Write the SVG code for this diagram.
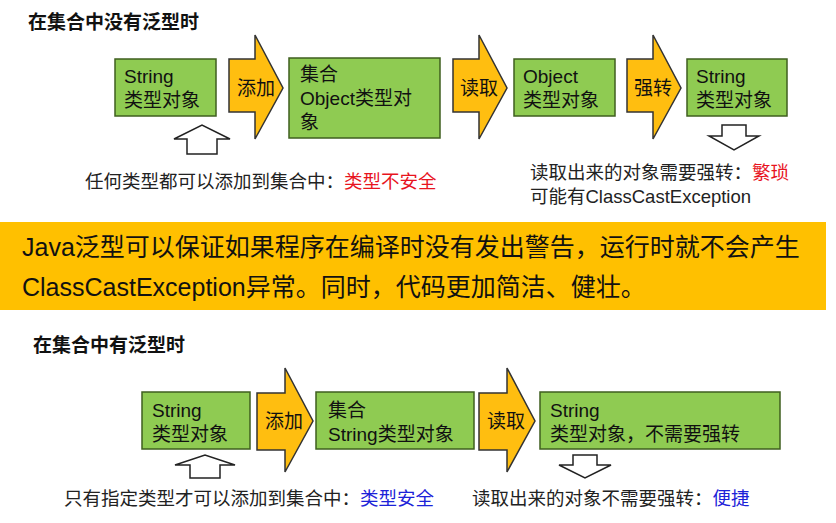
<svg xmlns="http://www.w3.org/2000/svg" width="836" height="523" viewBox="0 0 836 523">
<style>
text{font-family:"Liberation Sans","Noto Sans CJK SC",sans-serif;font-size:19px;fill:#111}
.box{fill:#8FCB52;stroke:#3F5F1F;stroke-width:1.5}
.arr{fill:#FFBE10;stroke:#333;stroke-width:1.5}
.hol{fill:#fff;stroke:#222;stroke-width:1.5}
.t{font-size:18.5px;fill:#222}
.h{font-size:19px;font-weight:bold}
.red{fill:#E8141E}
.blue{fill:#1C22D8}
.big{font-size:25px}
</style>
<rect width="836" height="523" fill="#fff"/>
<text class="h" x="28" y="29">在集合中没有泛型时</text>
<g id="connectors">
<polygon class="arr" points="229,59 255,59 255,35 283,88 255,139 255,112 229,112"/>
<text x="237" y="95">添加</text>
<polygon class="arr" points="453,59 479,59 479,35 507,88 479,139 479,112 453,112"/>
<text x="460" y="95">读取</text>
<polygon class="arr" points="627,59 653,59 653,35 681,88 653,139 653,112 627,112"/>
<text x="634" y="95">强转</text>
<polygon class="hol" points="187,154 217,154 217,139 230,139 202,125 174,139 187,139"/>
<polygon class="hol" points="722,125 746,125 746,136 759,136 734,150 709,136 722,136"/>
<polygon class="arr" points="257,393 285,393 285,368 313,421 285,472 285,450 257,450"/>
<text x="265" y="428">添加</text>
<polygon class="arr" points="479,393 507,393 507,368 535,421 507,472 507,450 479,450"/>
<text x="487" y="428">读取</text>
<polygon class="hol" points="190,478 220,478 220,465 235,465 205,455 175,465 190,465"/>
<polygon class="hol" points="573,455 597,455 597,465 611,465 585,478 559,465 573,465"/>
</g>
<g id="n1"><rect class="box" x="115" y="59" width="101" height="57"/><text x="124" y="83">String</text><text x="124" y="107">类型对象</text></g>
<g id="n2"><rect class="box" x="289" y="58" width="151" height="80"/><text x="300" y="81">集合</text><text x="300" y="105">Object类型对</text><text x="300" y="129">象</text></g>
<g id="n3"><rect class="box" x="514" y="59" width="101" height="57"/><text x="523" y="83">Object</text><text x="523" y="107">类型对象</text></g>
<g id="n4"><rect class="box" x="687" y="59" width="100" height="57"/><text x="696" y="83">String</text><text x="696" y="107">类型对象</text></g>
<text class="t" x="85" y="188">任何类型都可以添加到集合中：<tspan class="red">类型不安全</tspan></text>
<text class="t" x="530" y="179">读取出来的对象需要强转：<tspan class="red">繁琐</tspan></text>
<text class="t" x="530" y="203">可能有ClassCastException</text>
<rect x="0" y="222" width="826" height="88" fill="#FFC000"/>
<text class="big" x="22" y="256">Java泛型可以保证如果程序在编译时没有发出警告，运行时就不会产生</text>
<text class="big" x="22" y="296">ClassCastException异常。同时，代码更加简洁、健壮。</text>
<text class="h" x="33" y="352">在集合中有泛型时</text>
<g id="m1"><rect class="box" x="142" y="392" width="108" height="57"/><text x="152" y="417">String</text><text x="152" y="441">类型对象</text></g>
<g id="m2"><rect class="box" x="316" y="392" width="158" height="57"/><text x="328" y="417">集合</text><text x="328" y="441">String类型对象</text></g>
<g id="m3"><rect class="box" x="540" y="392" width="240" height="57"/><text x="550" y="417">String</text><text x="550" y="441">类型对象，不需要强转</text></g>
<text class="t" x="64" y="505">只有指定类型才可以添加到集合中：<tspan class="blue">类型安全</tspan></text>
<text class="t" x="472" y="505">读取出来的对象不需要强转：<tspan class="blue">便捷</tspan></text>
</svg>
